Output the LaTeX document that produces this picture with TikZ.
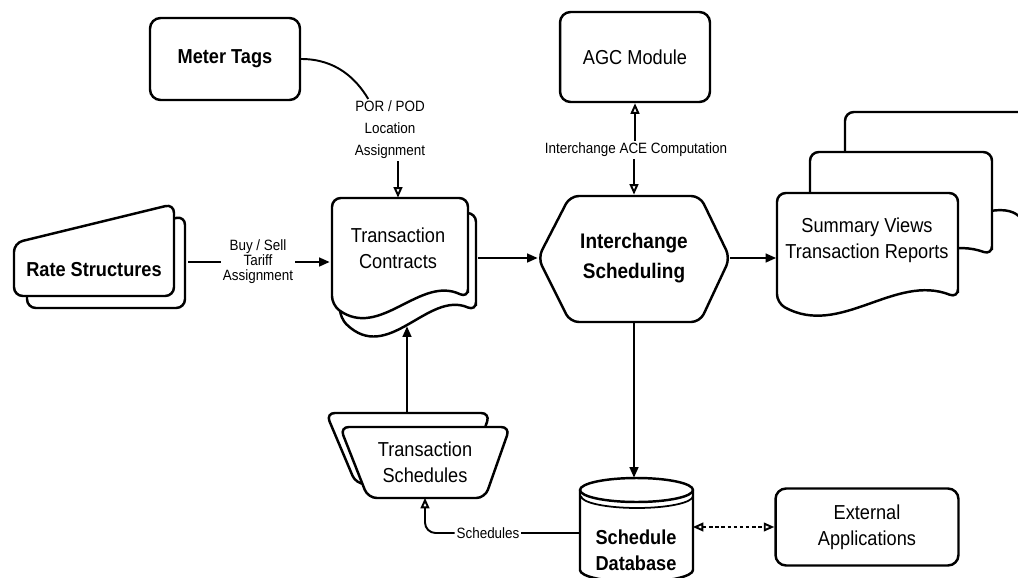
\documentclass[tikz,border=0pt]{standalone}
\usepackage{fontspec}
\setmainfont{Liberation Sans}[FakeStretch=0.9]
\usetikzlibrary{arrows.meta,calc}

\begin{document}
\begin{tikzpicture}[x=0.02cm,y=-0.02cm]
\tikzstyle{outline}=[draw,line width=1.4pt,fill=white,rounded corners=5pt]
\tikzstyle{boxtext}=[align=center,font=\fontsize{11.5}{15}\selectfont,inner sep=0pt]
\tikzstyle{heavytext}=[boxtext,font=\fontsize{11.5}{15}\selectfont\bfseries]
\tikzstyle{box}=[draw,line width=1.4pt,fill=white,rounded corners=6pt]
\tikzstyle{flowlabel}=[align=center,inner sep=1pt]
\tikzstyle{flow}=[line width=1.1pt,-{Triangle[length=6pt,width=5pt]}]
\tikzstyle{query}=[line width=1.1pt,-{Triangle[open,length=6pt,width=5pt]}]
\useasboundingbox (0,0) rectangle (1018,578);

% rate structures, two stacked manual input sheets
\draw[outline] (27,252) -- (185,216) -- (185,308) -- (27,308) -- cycle;
\draw[outline] (14,243) -- (174,204) -- (174,296) -- (14,296) -- cycle;
\node[heavytext,minimum width=3.76cm] (rs) at (94,270) {Rate Structures};

% transaction contracts, two stacked documents
\draw[outline] (476,311) -- (476,213) -- (340,213) -- (340,318) .. controls (388,365) and (428,290) .. (476,311) -- cycle;
\draw[outline] (468,298) -- (468,198) -- (332,198) -- (332,305) .. controls (380,340) and (420,275) .. (468,298) -- cycle;
\node[boxtext,minimum width=2.72cm,minimum height=2cm] (tc) at (398,248) {Transaction\\Contracts};

% interchange scheduling
\draw[outline] (538,258) -- (570,196) -- (700,196) -- (730,258) -- (700,322) -- (570,322) -- cycle;
\node[boxtext,font=\fontsize{12}{17}\selectfont\bfseries,minimum width=3.84cm,minimum height=2.52cm] (is) at (634,258) {Interchange\\Scheduling};

% summary views, three stacked documents
\draw[outline] (1027,226) -- (1027,112) -- (845,112) -- (845,220) .. controls (905,262) and (995,185) .. (1027,226) -- cycle;
\draw[outline] (992,255) -- (992,152) -- (810,152) -- (810,262) .. controls (874,297) and (929,232) .. (992,255) -- cycle;
\draw[outline] (958,298) -- (958,193) -- (777,193) -- (777,303) .. controls (840,338) and (895,273) .. (958,298) -- cycle;
\node[boxtext,minimum width=3.62cm] (sm) at (867,240) {Summary Views\\Transaction Reports};

% transaction schedules, two stacked manual operations
\draw[outline] (326,413) -- (490,413) -- (466,484) -- (356,484) -- cycle;
\draw[outline] (340,427) -- (510,427) -- (485,498) -- (368,498) -- cycle;
\node[boxtext,minimum width=3.4cm,minimum height=1.42cm] (ts) at (425,462) {Transaction\\Schedules};

% schedule database
\draw[outline,sharp corners] (580,490) -- (580,570) arc[start angle=180,end angle=360,x radius=1.13cm,y radius=0.24cm] -- (693,490) arc[start angle=0,end angle=180,x radius=1.13cm,y radius=0.24cm] -- cycle;
\draw[line width=1.4pt] (580,490) arc[start angle=180,end angle=360,x radius=1.13cm,y radius=0.24cm];
\draw[line width=1pt] (581,496) arc[start angle=180,end angle=360,x radius=1.12cm,y radius=0.24cm];
\node[heavytext,minimum width=2.26cm,minimum height=2.88cm] (db) at (636,550) {Schedule\\Database};

% plain boxes
\node[box,heavytext,minimum width=3cm,minimum height=1.64cm] (mt) at (225,59) {Meter Tags};
\node[box,boxtext,minimum width=3cm,minimum height=1.8cm] (agc) at (635,57) {AGC Module};
\node[box,boxtext,minimum width=3.66cm,minimum height=1.54cm] (ext) at (867,527) {External\\Applications};

% connector labels
\node[flowlabel,font=\fontsize{8.5}{12.5}\selectfont] (porlbl) at (390,130) {POR / POD\\Location\\Assignment};
\node[flowlabel,font=\fontsize{8.5}{8.5}\selectfont] (bslbl) at (258,262) {Buy / Sell\\Tariff\\Assignment};
\node[flowlabel,font=\fontsize{8.5}{10}\selectfont] (acelbl) at (636,150) {Interchange ACE Computation};
\node[flowlabel,font=\fontsize{8.5}{10}\selectfont] (schlbl) at (488,533) {Schedules};

% connectors
\draw[line width=1.1pt] (mt.east) .. controls +(35,0) and +(-12,-20) .. (porlbl.125);
\draw[query] (porlbl.south -| tc.north) -- (tc.north);
\draw[line width=1.1pt] (rs.east |- bslbl.west) -- (bslbl.west);
\draw[flow] (bslbl.east) -- (bslbl.east -| tc.west);
\draw[flow] ($(tc.east |- is.west)+(12,0)$) -- (is.west);
\draw[query] (acelbl.north -| agc.south) -- (agc.south);
\draw[query] (acelbl.south -| is.north) -- (is.north);
\draw[flow] (is.east) -- (is.east -| sm.west);
\draw[flow] (is.south) -- (is.south |- db.north);
\draw[flow] ($(ts.north)+(-18,-14)$) -- ($(tc.south)+(9,28)$);
\draw[line width=1.1pt] (db.west |- schlbl.east) -- (schlbl.east);
\draw[query,rounded corners=6pt] (schlbl.west) -| (ts.south);
\draw[line width=1.1pt,dash pattern=on 2pt off 1.5pt,{Triangle[open,length=6pt,width=5pt]}-{Triangle[open,length=6pt,width=5pt]}] (db.east |- ext.west) -- (ext.west);
\end{tikzpicture}
\end{document}
